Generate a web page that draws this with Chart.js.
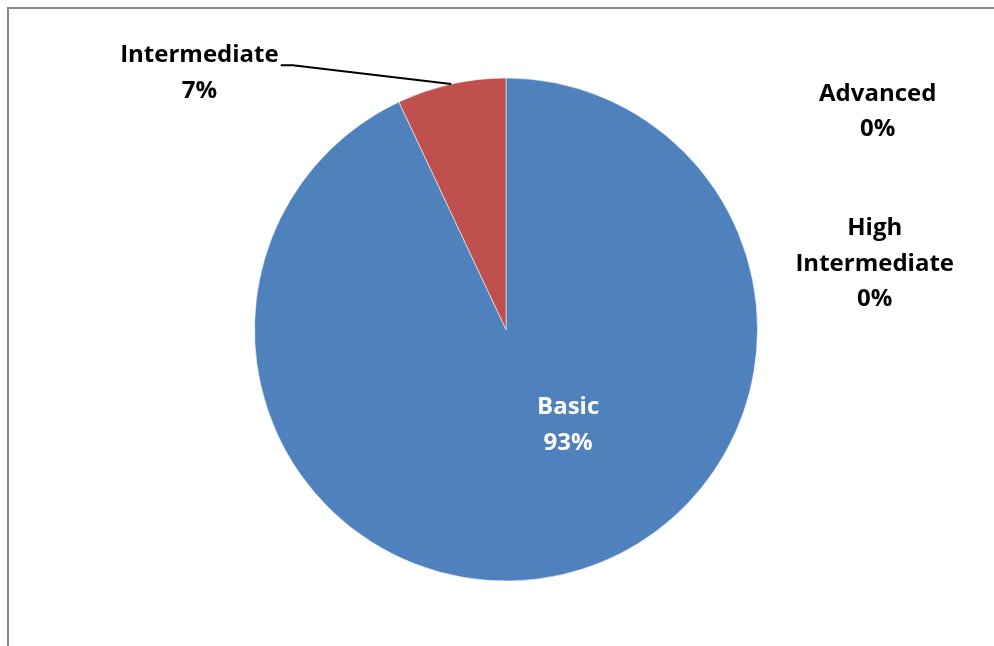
<!DOCTYPE html>
<html>
<head>
<meta charset="utf-8">
<script src="https://cdn.jsdelivr.net/npm/chart.js@4/dist/chart.umd.min.js"></script>
<style>
  html, body { margin: 0; padding: 0; background: #ffffff; }
  #wrap { width: 994px; height: 646px; position: relative; }
</style>
</head>
<body>
<div id="wrap"><canvas id="chart" width="994" height="646"></canvas></div>
<script>
// Proficiency levels and their share of respondents (percent)
const categories = ['Basic', 'Intermediate', 'High Intermediate', 'Advanced'];
const shares = [93, 7, 0, 0];
const sliceColors = ['#4F81BD', '#C0504D', '#9BBB59', '#8064A2'];

const FONT = 'bold 24px "Open Sans", Lato, sans-serif';
const LINE_H = 35.5;

// Frame around the chart area
const framePlugin = {
  id: 'frame',
  beforeDraw(chart) {
    const ctx = chart.ctx;
    ctx.save();
    ctx.strokeStyle = '#8a8a8a';
    ctx.lineWidth = 2;
    ctx.beginPath();
    ctx.moveTo(8, chart.height + 2);
    ctx.lineTo(8, 8);
    ctx.lineTo(chart.width + 2, 8);
    ctx.stroke();
    ctx.restore();
  }
};

// Category / percentage labels, placed relative to the pie centre in radius units
const sliceLabels = {
  id: 'sliceLabels',
  afterDatasetsDraw(chart, args, opts) {
    const ctx = chart.ctx;
    const meta = chart.getDatasetMeta(0);
    const total = shares.reduce((a, b) => a + b, 0);
    const arc0 = meta.data[0];
    const cx = arc0.x, cy = arc0.y, r = arc0.outerRadius;
    ctx.save();
    ctx.font = FONT;
    ctx.textAlign = 'center';
    ctx.textBaseline = 'middle';
    categories.forEach((name, i) => {
      const place = opts.places[i];
      const pct = Math.round(shares[i] / total * 100) + '%';
      const lines = name === 'High Intermediate' ? ['High', 'Intermediate', pct] : [name, pct];
      const bx = cx + place.dx * r;
      const by = cy + place.dy * r;
      const top = by - (lines.length - 1) * LINE_H / 2;
      ctx.fillStyle = place.inside ? '#ffffff' : '#000000';
      lines.forEach((t, k) => ctx.fillText(t, bx, top + k * LINE_H));

      if (place.leader) {
        // leader line from the end of the label to the middle of the slice's outer edge
        const arc = meta.data[i];
        const mid = (arc.startAngle + arc.endAngle) / 2;
        const ex = cx + Math.cos(mid) * r;
        const ey = cy + Math.sin(mid) * r;
        const w = ctx.measureText(lines[0]).width;
        const sx = bx + w / 2 + 2;
        const sy = top + 10;
        ctx.strokeStyle = '#000000';
        ctx.lineWidth = 2;
        ctx.beginPath();
        ctx.moveTo(sx, sy);
        ctx.lineTo(sx + 12, sy);
        ctx.lineTo(ex, ey);
        ctx.stroke();
      }
    });
    ctx.restore();
  }
};

new Chart(document.getElementById('chart'), {
  type: 'pie',
  data: {
    labels: categories,
    datasets: [{
      data: shares,
      backgroundColor: sliceColors,
      borderColor: 'rgba(255,255,255,0.55)',
      borderWidth: [1, 1, 0, 0]
    }]
  },
  options: {
    responsive: false,
    animation: false,
    rotation: 0,
    layout: { padding: { left: 254, right: 236, top: 77, bottom: 64 } },
    plugins: {
      legend: { display: false },
      tooltip: { enabled: false },
      sliceLabels: {
        places: [
          { dx: 0.247, dy: 0.380, inside: true },
          { dx: -1.219, dy: -1.02, leader: true },
          { dx: 1.466, dy: -0.261 },
          { dx: 1.478, dy: -0.867 }
        ]
      }
    }
  },
  plugins: [framePlugin, sliceLabels]
});
</script>
</body>
</html>
